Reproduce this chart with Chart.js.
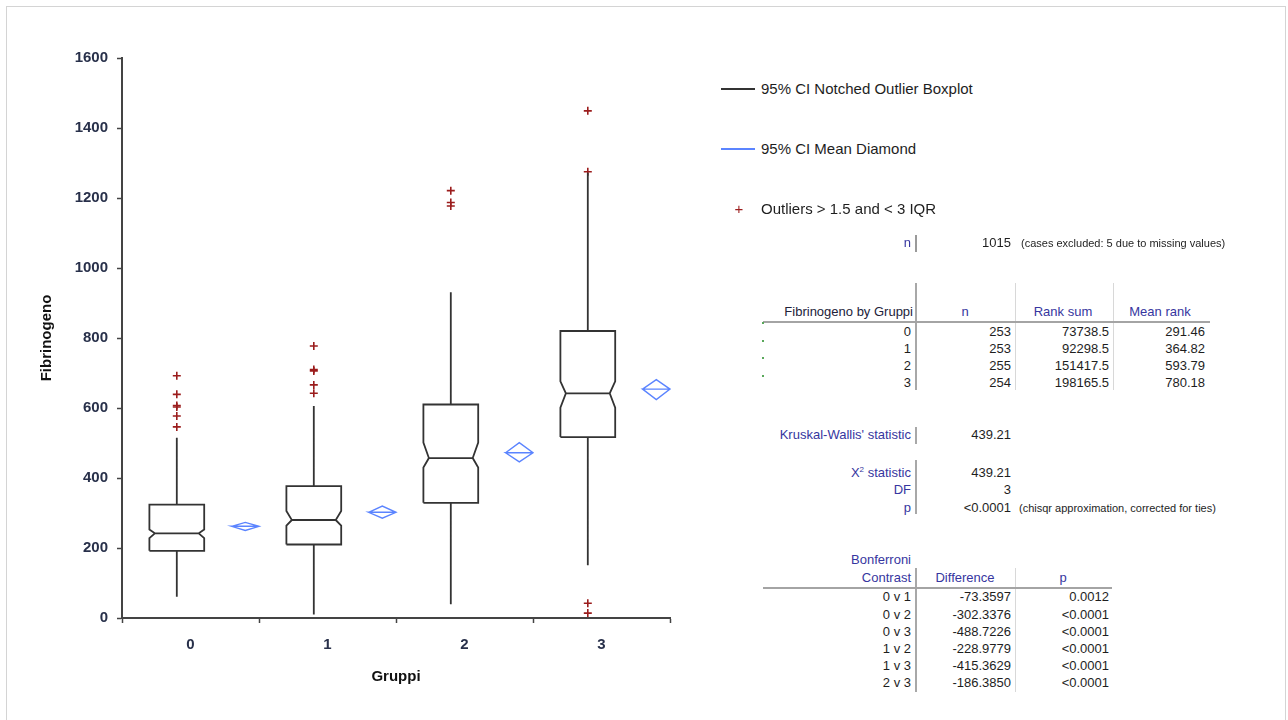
<!DOCTYPE html>
<html>
<head>
<meta charset="utf-8">
<title>Fibrinogeno by Gruppi</title>
<script src="https://cdn.jsdelivr.net/npm/chart.js@4.4.1/dist/chart.umd.min.js"></script>
<style>
  html, body { margin: 0; padding: 0; background: #fff; }
  body { width: 1288px; height: 720px; position: relative; overflow: hidden;
         font-family: "Liberation Sans", Arial, sans-serif; }
  #frame { position: absolute; left: 6px; top: 6px; width: 1280px; height: 740px;
           border: 1px solid #d4d4d4; box-sizing: border-box; }
  #plot { position: absolute; left: 0; top: 0; width: 700px; height: 720px; }
  .t { position: absolute; white-space: nowrap; line-height: 16px; height: 16px; font-size: 13px; color: #1e1e1e; }
  .h { color: #3636a0; }
  .dk { color: #22223a; }
  .s { font-size: 11px; color: #1e1e1e; }
  .lg { font-size: 15px; color: #1e1e1e; }
  .ln { position: absolute; }
  sup { font-size: 8px; line-height: 0; vertical-align: 5px; }
</style>
</head>
<body>
<div id="frame"></div>
<div id="plot"><canvas id="c" width="700" height="720"></canvas></div>
<div id="panel"></div>
<script>
// ---- chart values ----
const categories = ['0', '1', '2', '3'];
const q1 = [192, 210, 329, 517];
const medians = [242, 280, 457, 642];
const q3 = [324, 377, 610, 820];
const notchLow = [228, 264, 430, 601];
const notchHigh = [253, 306, 501, 676];
const whiskerLow = [61, 10, 39, 151];
const whiskerHigh = [515, 606, 931, 1272];
const means = [262, 302, 472, 654];
const meanCILow = [250, 285, 446, 624];
const meanCIHigh = [273, 320, 501, 681];
const outliers = [
  [692, 639, 607, 603, 577, 546],
  [777, 710, 706, 666, 642],
  [1221, 1187, 1177],
  [1449, 1275, 42, 14]
];
const yTickValues = [0, 200, 400, 600, 800, 1000, 1200, 1400, 1600];

// ---- table values ----
const totalN = '1015';
const groupN = ['253', '253', '255', '254'];
const rankSums = ['73738.5', '92298.5', '151417.5', '198165.5'];
const meanRanks = ['291.46', '364.82', '593.79', '780.18'];
const kwStatistic = '439.21';
const chiSqStatistic = '439.21';
const degreesFreedom = '3';
const kwP = '<0.0001';
const contrasts = ['0 v 1', '0 v 2', '0 v 3', '1 v 2', '1 v 3', '2 v 3'];
const differences = ['-73.3597', '-302.3376', '-488.7226', '-228.9779', '-415.3629', '-186.3850'];
const contrastP = ['0.0012', '<0.0001', '<0.0001', '<0.0001', '<0.0001', '<0.0001'];

// ---- layout of marks within a category (in category units) ----
const BOX_SHIFT = -0.1, BOX_HALF = 0.2, NOTCH_DEPTH = 0.04;
const DIAMOND_SHIFT = 0.4, DIAMOND_HALF = 0.1;

const gap = (x) => ({ x: x, y: null });

// notched box outlines, medians and whiskers
const boxPath = [];
categories.forEach((c, i) => {
  const xc = i + BOX_SHIFT, l = xc - BOX_HALF, r = xc + BOX_HALF;
  boxPath.push(
    { x: l, y: q1[i] }, { x: l, y: notchLow[i] }, { x: l + NOTCH_DEPTH, y: medians[i] },
    { x: l, y: notchHigh[i] }, { x: l, y: q3[i] }, { x: r, y: q3[i] },
    { x: r, y: notchHigh[i] }, { x: r - NOTCH_DEPTH, y: medians[i] }, { x: r, y: notchLow[i] },
    { x: r, y: q1[i] }, { x: l, y: q1[i] }, gap(l),
    { x: l + NOTCH_DEPTH, y: medians[i] }, { x: r - NOTCH_DEPTH, y: medians[i] }, gap(r),
    { x: xc, y: q3[i] }, { x: xc, y: whiskerHigh[i] }, gap(xc),
    { x: xc, y: q1[i] }, { x: xc, y: whiskerLow[i] }, gap(xc)
  );
});

// mean diamonds with their centre line
const diamondPath = [];
categories.forEach((c, i) => {
  const xc = i + DIAMOND_SHIFT, l = xc - DIAMOND_HALF, r = xc + DIAMOND_HALF;
  diamondPath.push(
    { x: l, y: means[i] }, { x: xc, y: meanCIHigh[i] }, { x: r, y: means[i] },
    { x: xc, y: meanCILow[i] }, { x: l, y: means[i] }, { x: r, y: means[i] }, gap(r)
  );
});

const outlierPoints = [];
outliers.forEach((list, i) => list.forEach(v => outlierPoints.push({ x: i + BOX_SHIFT, y: v })));

Chart.defaults.font.family = '"Liberation Sans", Arial, sans-serif';

const xTickValues = [-0.5, 0, 0.5, 1, 1.5, 2, 2.5, 3, 3.5];

new Chart(document.getElementById('c'), {
  type: 'scatter',
  data: {
    datasets: [
      {
        label: '95% CI Notched Outlier Boxplot',
        data: boxPath, showLine: true, spanGaps: false,
        borderColor: '#333333', borderWidth: 1.8, pointRadius: 0,
        borderJoinStyle: 'miter', borderCapStyle: 'butt', tension: 0, clip: false
      },
      {
        label: '95% CI Mean Diamond',
        data: diamondPath, showLine: true, spanGaps: false,
        borderColor: '#5b84ff', borderWidth: 1.4, pointRadius: 0,
        borderJoinStyle: 'miter', tension: 0, clip: false
      },
      {
        label: 'Outliers > 1.5 and < 3 IQR',
        data: outlierPoints, showLine: false,
        pointStyle: 'cross', pointRadius: 4, pointBorderWidth: 1.6,
        borderColor: '#9b1c1c', backgroundColor: '#9b1c1c', clip: false
      }
    ]
  },
  options: {
    responsive: false,
    animation: false,
    events: [],
    layout: { padding: { left: 0, top: 58, right: 30, bottom: 0 } },
    plugins: { legend: { display: false }, tooltip: { enabled: false } },
    scales: {
      x: {
        type: 'linear', min: -0.5, max: 3.5,
        afterBuildTicks: (s) => { s.ticks = xTickValues.map(v => ({ value: v })); },
        afterFit: (s) => { s.height = 102; },
        ticks: {
          autoSkip: false, maxRotation: 0, padding: 13,
          color: '#28304a', font: { size: 15, weight: 'bold' },
          callback: (v) => Number.isInteger(v) ? categories[v] : ''
        },
        grid: {
          drawOnChartArea: false, tickLength: 5, tickWidth: 1.5,
          tickColor: (ctx) => (ctx.tick && Number.isInteger(ctx.tick.value)) ? 'rgba(0,0,0,0)' : '#444'
        },
        border: { color: '#444', width: 2 },
        title: { display: true, text: 'Gruppi', color: '#111', font: { size: 15, weight: 'bold' },
                 padding: { top: 0, bottom: 34 } }
      },
      y: {
        min: 0, max: 1600,
        afterBuildTicks: (s) => { s.ticks = yTickValues.map(v => ({ value: v })); },
        afterFit: (s) => { s.width = 122; },
        ticks: { padding: 9, color: '#28304a', font: { size: 15, weight: 'bold' },
                 callback: (v) => String(v) },
        grid: { drawOnChartArea: false, tickLength: 5, tickWidth: 1.5, tickColor: '#444' },
        border: { color: '#444', width: 2 },
        title: { display: true, text: 'Fibrinogeno', color: '#111', font: { size: 15, weight: 'bold' },
                 padding: { top: 38, bottom: 0 } }
      }
    }
  }
});

// ---- legend and statistics panel ----
const panel = document.getElementById('panel');

function addText(str, x, y, align, cls, html) {
  const el = document.createElement('div');
  el.className = 't ' + (cls || '');
  if (html) el.innerHTML = str; else el.textContent = str;
  if (align === 'right') el.style.right = (1288 - x) + 'px';
  else if (align === 'center') { el.style.left = (x - 100) + 'px'; el.style.width = '200px'; el.style.textAlign = 'center'; }
  else el.style.left = x + 'px';
  el.style.top = (y - 8) + 'px';
  panel.appendChild(el);
  return el;
}
function hline(x1, x2, y, w, color) {
  const el = document.createElement('div');
  el.className = 'ln';
  Object.assign(el.style, { left: x1 + 'px', top: (y - w / 2) + 'px', width: (x2 - x1) + 'px', height: w + 'px', background: color });
  panel.appendChild(el);
}
function vline(x, y1, y2, w, color) {
  const el = document.createElement('div');
  el.className = 'ln';
  Object.assign(el.style, { left: (x - w / 2) + 'px', top: y1 + 'px', width: w + 'px', height: (y2 - y1) + 'px', background: color });
  panel.appendChild(el);
}

// legend
hline(721, 755, 89, 1.5, '#333');
addText('95% CI Notched Outlier Boxplot', 761, 89, 'left', 'lg');
hline(721, 755, 149, 1.3, '#5b84ff');
addText('95% CI Mean Diamond', 761, 149, 'left', 'lg');
addText('+', 739, 209, 'center', 'lg').style.color = '#9b1c1c';
addText('Outliers > 1.5 and < 3 IQR', 761, 209, 'left', 'lg');

// sample size
addText('n', 911, 243, 'right', 'h');
vline(916, 235, 252, 2, '#9a9a9a');
addText(totalN, 1011, 243, 'right');
addText('(cases excluded: 5 due to missing values)', 1021, 243, 'left', 's');

// rank table
vline(916, 283, 390, 2, '#a8a8a8');
vline(1015, 283, 390, 1, '#d8d8d8');
vline(1113, 283, 390, 1, '#d8d8d8');
hline(763, 1210, 322, 2, '#a4a4a4');
addText('Fibrinogeno by Gruppi', 913, 312, 'right', 'dk');
addText('n', 965, 312, 'center', 'h');
addText('Rank sum', 1063, 312, 'center', 'h');
addText('Mean rank', 1160, 312, 'center', 'h');
categories.forEach((c, i) => {
  const y = 332 + 17 * i;
  addText(c, 911, y, 'right');
  addText(groupN[i], 1011, y, 'right');
  addText(rankSums[i], 1109, y, 'right');
  addText(meanRanks[i], 1205, y, 'right');
  const dot = document.createElement('div');
  dot.className = 'ln';
  Object.assign(dot.style, { left: '762px', top: (322 + 17.7 * i) + 'px', width: '2px', height: '2px', background: '#59a85a' });
  panel.appendChild(dot);
});

// Kruskal-Wallis
addText("Kruskal-Wallis' statistic", 911, 435, 'right', 'h');
vline(916, 427, 444, 2, '#a8a8a8');
addText(kwStatistic, 1011, 435, 'right');

vline(916, 460, 514, 2, '#a8a8a8');
addText('X<sup>2</sup> statistic', 911, 473, 'right', 'h', true);
addText('DF', 911, 490, 'right', 'h');
addText('p', 911, 508, 'right', 'h');
addText(chiSqStatistic, 1011, 473, 'right');
addText(degreesFreedom, 1011, 490, 'right');
addText(kwP, 1011, 508, 'right');
addText('(chisqr approximation, corrected for ties)', 1019, 508, 'left', 's');

// Bonferroni contrasts
addText('Bonferroni', 911, 560, 'right', 'h');
addText('Contrast', 911, 578, 'right', 'h');
addText('Difference', 965, 578, 'center', 'h');
addText('p', 1063, 578, 'center', 'h');
vline(916, 568, 692, 2, '#a8a8a8');
vline(1015, 568, 692, 1, '#d8d8d8');
hline(763, 1112, 588, 2, '#a4a4a4');
contrasts.forEach((c, i) => {
  const y = 597.3 + 17.2 * i;
  addText(c, 911, y, 'right');
  addText(differences[i], 1011, y, 'right');
  addText(contrastP[i], 1109, y, 'right');
});
</script>
</body>
</html>
